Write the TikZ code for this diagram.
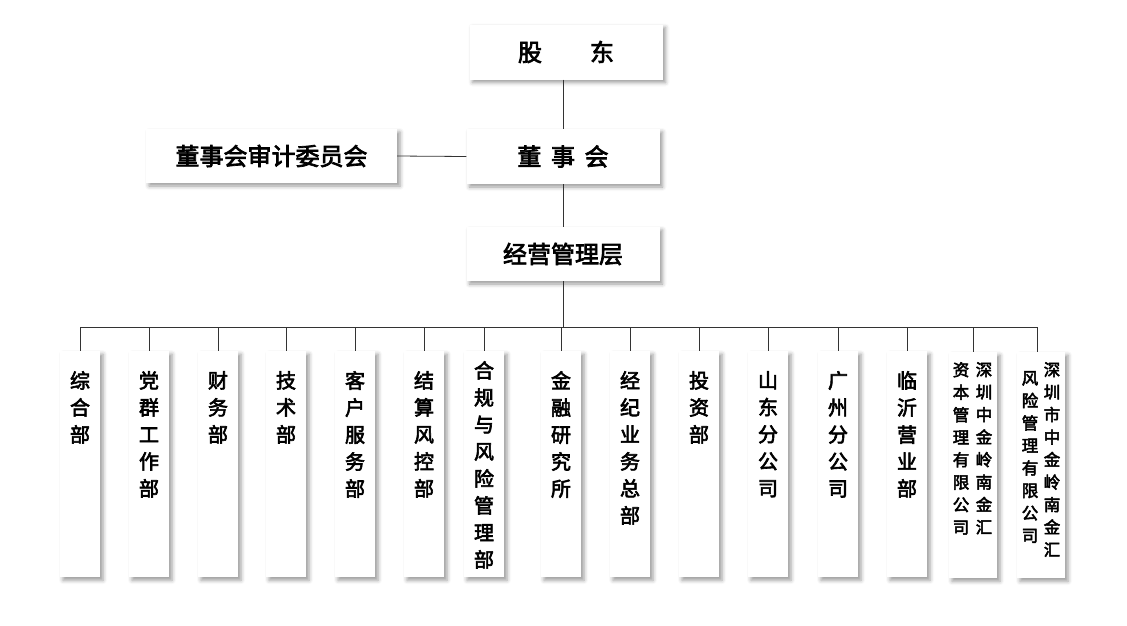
\documentclass[tikz,border=0pt]{standalone}
\usepackage{fontspec}
\setmainfont{Noto Sans CJK SC}[AutoFakeBold=3]
\usetikzlibrary{positioning,shadows.blur}
\begin{document}
\begin{tikzpicture}[x=1pt,y=-1pt,
  box/.style={draw=none, fill=white, inner sep=0pt, blur shadow={shadow xshift=3pt, shadow yshift=-3pt, shadow blur radius=4pt, shadow opacity=40}},
  head/.style={box, minimum width=193pt, minimum height=55pt, font=\bfseries\fontsize{24}{28}\selectfont},
  unit/.style={box, minimum width=40pt, minimum height=226pt},
  wide/.style={unit, minimum width=48pt},
  txt/.style={anchor=north, align=center, inner sep=0pt, font=\bfseries\fontsize{20}{27}\selectfont},
  stxt/.style={anchor=north, align=center, inner sep=0pt, font=\bfseries\fontsize{16.5}{22.5}\selectfont},
  link/.style={draw=black!80, line width=0.8pt}
]
\useasboundingbox (0,0) rectangle (1127,625);

% top levels
\node[head] (gd) at (566,52) {股\hspace{2em}东};
\node[head] (dsh) at (563,156.5) {董\hspace{0.4em}事\hspace{0.4em}会};
\node[head, minimum width=251pt, minimum height=54pt] (sj) at (271.5,156) {董事会审计委员会};
\node[head, minimum height=54pt] (jy) at (563,254) {经营管理层};

\draw[link] (gd.south -| dsh) -- (dsh.north);
\draw[link] (sj.east) -- (dsh.west);
\draw[link] (dsh.south) -- (jy.north);
\coordinate (bus) at (563,327);
\draw[link] (jy.south) -- (bus);
\draw[link] (80,327) coordinate (busl) -- (1037,327) coordinate (busr);

% departments
\foreach \x/\txt/\dy [count=\i] in {80/综\\合\\部/20, 149/党\\群\\工\\作\\部/20, 218/财\\务\\部/20,
  286/技\\术\\部/20, 355/客\\户\\服\\务\\部/20, 424/结\\算\\风\\控\\部/20,
  484/合\\规\\与\\风\\险\\管\\理\\部/10, 561/金\\融\\研\\究\\所/20,
  630/经\\纪\\业\\务\\总\\部/20, 699/投\\资\\部/20, 768/山\\东\\分\\公\\司/20,
  838/广\\州\\分\\公\\司/20, 907/临\\沂\\营\\业\\部/20}{
  \node[unit, anchor=north] (b\i) at (\x,351) {};
  \node[txt, below=\dy pt of b\i.north] (t\i) {\txt};
  \draw[link] (b\i.north |- bus) -- (b\i.north);
}

% subsidiaries
\node[wide, anchor=north] (b14) at (973,352) {};
\node[stxt, below=10pt of b14.north, xshift=-12pt] (t14a) {资\\本\\管\\理\\有\\限\\公\\司};
\node[stxt, below=10pt of b14.north, xshift=11pt] (t14b) {深\\圳\\中\\金\\岭\\南\\金\\汇};
\draw[link] (b14.north |- bus) -- (b14.north);

\node[wide, anchor=north] (b15) at (1041,352) {};
\node[stxt, below=19pt of b15.north, xshift=-11pt] (t15a) {风\\险\\管\\理\\有\\限\\公\\司};
\node[stxt, below=10pt of b15.north, xshift=11pt] (t15b) {深\\圳\\市\\中\\金\\岭\\南\\金\\汇};
\draw[link] (1037,327) -- (1037,352);
\end{tikzpicture}
\end{document}
